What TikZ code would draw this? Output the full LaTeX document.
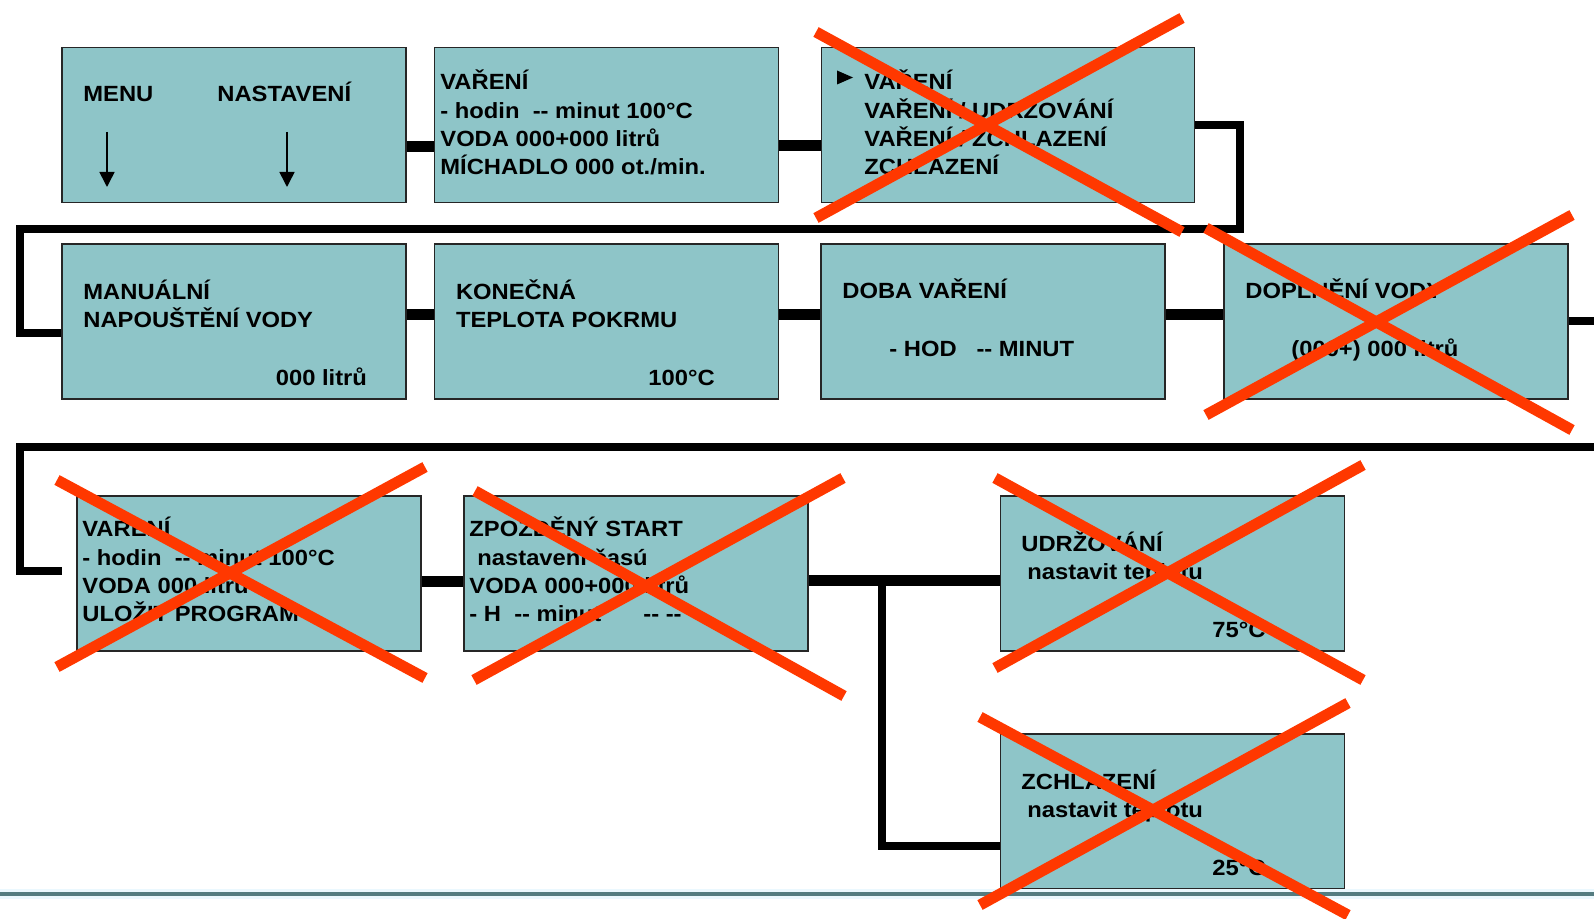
\documentclass[tikz,border=0pt]{standalone}
\usepackage{fontspec}
\setmainfont{Liberation Sans}[FakeStretch=1.08, Ligatures=TeXOff]
\definecolor{panelteal}{RGB}{142, 197, 200}
\definecolor{crossred}{RGB}{255, 56, 0}
\definecolor{rulegray}{RGB}{84, 124, 128}
\usetikzlibrary{arrows.meta, calc}

\begin{document}
\begin{tikzpicture}[x=0.5pt, y=-0.5pt,
  panel/.style={draw=black!85, line width=0.9pt, fill=panelteal, inner sep=0pt,
    minimum width=172pt, minimum height=77.5pt},
  lbl/.style={anchor=base west, inner sep=0pt, font=\fontsize{11}{14}\selectfont\bfseries},
  bus/.style={line width=5.5pt},
  loopline/.style={line width=4pt},
  pointer/.style={line width=0.8pt, -{Triangle[length=7.5pt, width=7.5pt]}},
  crossout/.style={crossred, line width=5.5pt}]
  \useasboundingbox (0,0) rectangle (1594,919);

  % Row 1
  \node[panel] (menubox) at (234, 125) {};
  \node[panel] (cooking) at (606.5, 125) {};
  \node[panel, minimum width=186.5pt] (modes) at (1008, 125) {};

  \node[lbl] (menu) at (83, 101.7) {MENU};
  \node[lbl] (setup) at (217, 101.7) {NASTAVENÍ};
  \coordinate (m1) at (107, 132);
  \coordinate (m2) at (107, 187);
  \coordinate (s1) at (287, 132);
  \coordinate (s2) at (287, 187);
  \draw[pointer] (m1) -- (m2);
  \draw[pointer] (s1) -- (s2);

  \node[lbl] (cook1) at (440, 90) {VAŘENÍ};
  \node[lbl] (cook2) at (440, 118.3) {- hodin\ \ -- minut 100°C};
  \node[lbl] (cook3) at (440, 146.7) {VODA 000+000 litrů};
  \node[lbl] (cook4) at (440, 175) {MÍCHADLO 000 ot./min.};

  \fill (837, 70.5) -- (853, 77.5) -- (837, 84.5) -- cycle;
  \node[lbl] (mode1) at (864, 90) {VAŘENÍ};
  \node[lbl] (mode2) at (864, 118.3) {VAŘENÍ / UDRŽOVÁNÍ};
  \node[lbl] (mode3) at (864, 146.7) {VAŘENÍ / ZCHLAZENÍ};
  \node[lbl] (mode4) at (864, 175) {ZCHLAZENÍ};

  % Row 2
  \node[panel] (manual) at (234, 321.5) {};
  \node[panel] (final) at (606.5, 321.5) {};
  \node[panel] (duration) at (993, 321.5) {};
  \node[panel] (refill) at (1396, 321.5) {};

  \node[lbl] (man1) at (83, 300) {MANUÁLNÍ};
  \node[lbl] (man2) at (83, 328) {NAPOUŠTĚNÍ VODY};
  \node[lbl] (man3) at (275.5, 386) {000 litrů};
  \node[lbl] (fin1) at (455.6, 300) {KONEČNÁ};
  \node[lbl] (fin2) at (455.6, 328) {TEPLOTA POKRMU};
  \node[lbl] (fin3) at (648, 386) {100°C};
  \node[lbl] (dur1) at (842, 299) {DOBA VAŘENÍ};
  \node[lbl] (dur2) at (889, 357) {- HOD\ \ \ -- MINUT};
  \node[lbl] (ref1) at (1245, 299) {DOPLNĚNÍ VODY};
  \node[lbl] (ref2) at (1291, 357) {(000+) 000 litrů};

  % Row 3
  \node[panel] (store) at (249, 573.5) {};
  \node[panel] (delay) at (636, 573.5) {};
  \node[panel] (keep) at (1172.5, 573.5) {};
  \node[panel] (cool) at (1172.5, 811.5) {};

  \node[lbl] (sto1) at (82, 536.7) {VAŘENÍ};
  \node[lbl] (sto2) at (82, 565) {- hodin\ \ -- minut 100°C};
  \node[lbl] (sto3) at (82, 593) {VODA 000 litrů};
  \node[lbl] (sto4) at (82, 621.7) {ULOŽIT PROGRAM};
  \node[lbl] (del1) at (469, 536.7) {ZPOŽDĚNÝ START};
  \node[lbl] (del2) at (477, 565) {nastavení časú};
  \node[lbl] (del3) at (469, 593) {VODA 000+000 litrů};
  \node[lbl] (del4) at (469, 621.7) {- H\ \ -- minut\hspace{21pt}-- --};
  \node[lbl] (kee1) at (1021, 551.7) {UDRŽOVÁNÍ};
  \node[lbl] (kee2) at (1027, 579) {nastavit teplotu};
  \node[lbl] (kee3) at (1212, 637.7) {75°C};
  \node[lbl] (coo1) at (1021, 789) {ZCHLAZENÍ};
  \node[lbl] (coo2) at (1027, 817) {nastavit teplotu};
  \node[lbl] (coo3) at (1212, 875) {25°C};

  % Connectors
  \draw[bus] ($(menubox.east)+(0,21.5)$) -- ($(cooking.west)+(0,21.5)$);
  \draw[bus] ($(cooking.east)+(0,21)$) -- ($(modes.west)+(0,21)$);
  \coordinate (r1) at (1239.5, 229.5);
  \coordinate (l1) at (19.5, 333.5);
  \draw[loopline] (modes.east) -| (r1) -- (l1 |- r1) -- (l1) -- ($(manual.west)+(0,12)$);

  \draw[bus] ($(manual.east)+(0,-7)$) -- ($(final.west)+(0,-7)$);
  \draw[bus] ($(final.east)+(0,-7)$) -- ($(duration.west)+(0,-7)$);
  \draw[bus] ($(duration.east)+(0,-7)$) -- ($(refill.west)+(0,-7)$);
  \coordinate (edgeR) at (1600, 447);
  \draw[loopline] (refill.east) -- (refill.east -| edgeR);

  \coordinate (l2) at (19.5, 571);
  \coordinate (gapL) at (62, 571);
  \draw[loopline] (edgeR) -- (l2 |- edgeR) -- (l2) -- (gapL);
  \draw[bus] ($(store.east)+(0,7.5)$) -- ($(delay.west)+(0,7.5)$);
  \draw[bus] ($(delay.east)+(0,7)$) -- ($(keep.west)+(0,7)$);
  \coordinate (fork) at (882, 580.5);
  \draw[loopline] (fork) |- ($(cool.west)+(0,34.5)$);

  % Bottom rule
  \draw[cyan!8, line width=5pt] (0, 894) -- (1594, 894);
  \draw[rulegray, line width=2pt] (0, 894) -- (1594, 894);

  % Crossed-out screens
  \draw[crossout] (816, 32) -- (1182, 232);
  \draw[crossout] (816, 218) -- (1182, 18);
  \draw[crossout] (1206, 228) -- (1572, 430);
  \draw[crossout] (1206, 415) -- (1572, 215);
  \draw[crossout] (57, 480) -- (425, 678);
  \draw[crossout] (57, 667) -- (425, 467);
  \draw[crossout] (475, 491) -- (844, 696);
  \draw[crossout] (474, 680) -- (843, 478);
  \draw[crossout] (995, 478) -- (1363, 680);
  \draw[crossout] (995, 668) -- (1363, 465);
  \draw[crossout] (980, 717) -- (1348, 915);
  \draw[crossout] (980, 905) -- (1348, 703);
\end{tikzpicture}
\end{document}
